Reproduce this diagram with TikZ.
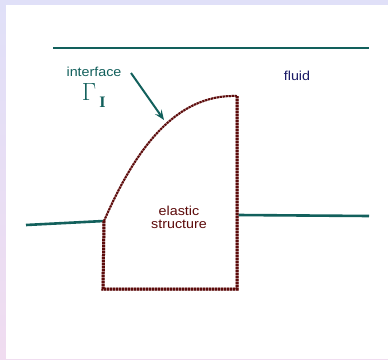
\documentclass[tikz,border=0pt]{standalone}
\usepackage{fontspec}
\setmainfont{Liberation Sans}
\newfontfamily\gserif{Liberation Serif}
\usetikzlibrary{arrows.meta}
\definecolor{teal1}{HTML}{12605C}
\definecolor{brn}{HTML}{5C0A0A}
\definecolor{brnl}{HTML}{B08888}
\definecolor{navy1}{HTML}{1A1A66}
\definecolor{bgtop}{HTML}{E0E0F8}
\definecolor{bgbot}{HTML}{F0DCF0}
\tikzset{
  fluidline/.style={draw=teal1,line width=2.6pt},
  wallbase/.style={draw=brnl,line width=3pt},
  walldots/.style={draw=brn,line width=3pt,dash pattern=on 2pt off 1pt},
  curvebase/.style={draw=brnl,line width=2pt},
  curvedots/.style={draw=brn,line width=2pt,dash pattern=on 2pt off 1pt},
  lbl/.style={inner sep=0pt,font=\fontsize{13}{14}\selectfont,xscale=1.1}
}
\begin{document}
\begin{tikzpicture}[x=1pt,y=-1pt]
\useasboundingbox (0,0) rectangle (388,359);
\shade[top color=bgtop,bottom color=bgbot] (0,0) rectangle (388,359);
\fill[bgtop] (0,0) rectangle (388,5);
\fill[white] (6,5) rectangle (388,359);
% coordinates
\coordinate (tl) at (53,48);
\coordinate (tr) at (369,48);
\coordinate (ll) at (26,225);
\coordinate (A) at (104,221);
\coordinate (B) at (237,96);
\coordinate (C) at (237,289);
\coordinate (D) at (103,289);
\coordinate (E) at (238,215);
\coordinate (rr) at (369,216);
% fluid lines
\draw[fluidline] (tl) -- (tr);
\draw[fluidline] (ll) -- (A);
\draw[fluidline] (E) -- (rr);
% structure
\draw[curvebase] (A) .. controls (135,150) and (175,94) .. (B);
\draw[curvedots] (A) .. controls (135,150) and (175,94) .. (B);
\draw[wallbase,line join=miter] (B) -- (C) -- (D) -- (A);
\draw[walldots,line join=miter] (B) -- (C) -- (D) -- (A);
% labels
\node[lbl,text=teal1] (iface) at (94,72) {interface};
\node[inner sep=0pt,text=teal1,font=\fontsize{26}{26}\selectfont] (gam) at (89,92) {$\Gamma$};
\node[inner sep=0pt,text=teal1,font=\fontsize{16}{16}\selectfont\gserif\bfseries] (gi) at (102.5,102.5) {I};
\coordinate (as) at (131,73);
\coordinate (ae) at (164,120);
\draw[teal1,line width=2pt,-{Stealth[length=10pt,width=8pt,inset=4pt]}] (as) -- (ae);
\node[lbl,text=navy1] (fl) at (297,76) {fluid};
\node[lbl,text=brn,align=center] (es) at (179,217.5) {elastic\\[-1pt]structure};
\end{tikzpicture}
\end{document}
